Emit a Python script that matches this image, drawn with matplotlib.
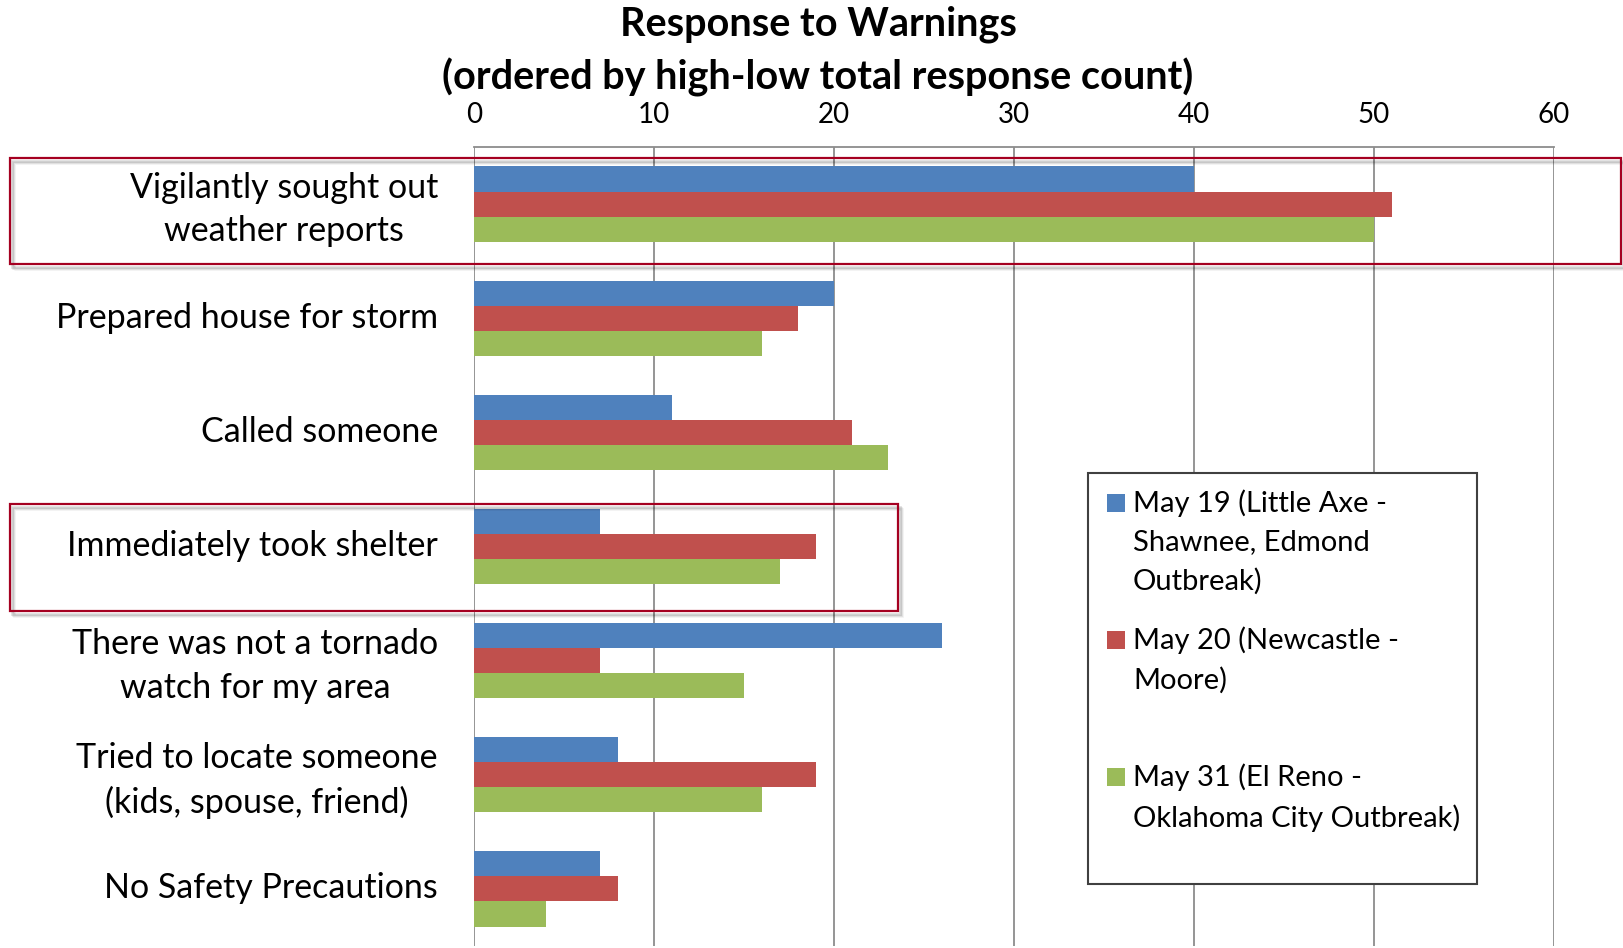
import matplotlib.pyplot as plt
from matplotlib.patches import Rectangle
from matplotlib.transforms import ScaledTranslation
import numpy as np

plt.rcParams['font.family'] = ['Lato', 'DejaVu Sans']

categories = ["Vigilantly sought out\nweather reports",
              "Prepared house for storm",
              "Called someone",
              "Immediately took shelter",
              "There was not a tornado\nwatch for my area",
              "Tried to locate someone\n(kids, spouse, friend)",
              "No Safety Precautions"]
may19 = [40, 20, 11, 7, 26, 8, 7]
may20 = [51, 18, 21, 19, 7, 19, 8]
may31 = [50, 16, 23, 17, 15, 16, 4]
series_names = ["May 19 (Little Axe -\nShawnee, Edmond\nOutbreak)",
                "May 20 (Newcastle -\nMoore)",
                "May 31 (El Reno -\nOklahoma City Outbreak)"]
colors = ['#4F81BD', '#C0504D', '#9BBB59']

W, H = 1623, 948
fig = plt.figure(figsize=(W / 100, H / 100), dpi=100)


def fx(x):
    return x / W


def fy(y):
    return 1 - y / H


ax = fig.add_axes([fx(474), fy(946), fx(1554) - fx(474), fy(147) - fy(946)])
pos = np.arange(len(categories))
h = 0.22
for i, (vals, c) in enumerate(zip([may19, may20, may31], colors)):
    ax.barh(pos + (i - 1) * h, vals, height=h, color=c, zorder=3)

ax.set_xlim(0, 60)
ax.set_ylim(len(categories) - 0.5, -0.5)
ax.xaxis.tick_top()
ax.set_xticks(range(0, 61, 10))
ax.grid(axis='x', color='#8c8c8c', lw=1.3, zorder=0)
ax.set_axisbelow(True)
for s in ['left', 'right', 'bottom']:
    ax.spines[s].set_visible(False)
ax.spines['top'].set_color('#8c8c8c')
ax.spines['top'].set_linewidth(1.3)
ax.set_yticks(pos)
ax.set_yticklabels(categories, fontsize=24.5, ha='right', ma='center', linespacing=1.45)
ax.tick_params(axis='y', length=0, pad=26)
ax.tick_params(axis='x', length=0, pad=14, labelsize=20)
# nudge category labels up a few pixels
up = ScaledTranslation(0, 3.5 / 100, fig.dpi_scale_trans)
for lbl in ax.get_yticklabels():
    lbl.set_transform(lbl.get_transform() + up)

# title
fig.text(fx(818), fy(24), "Response to Warnings", ha='center', va='center',
         fontsize=28.5, fontweight='bold')
fig.text(fx(818), fy(77), "(ordered by high-low total response count)", ha='center',
         va='center', fontsize=28.5, fontweight='bold')

# highlight boxes
for (x0, y0, x1, y1) in [(10, 158, 1621, 264), (10, 504, 898, 611)]:
    for k, a in enumerate([0.12, 0.08, 0.05]):
        fig.add_artist(Rectangle((fx(x0 + 2 + k), fy(y1 + 3 + k)), fx(x1) - fx(x0), fy(y0) - fy(y1),
                                 transform=fig.transFigure, fill=False,
                                 edgecolor='black', alpha=a, lw=2, zorder=4))
    fig.add_artist(Rectangle((fx(x0), fy(y1)), fx(x1) - fx(x0), fy(y0) - fy(y1),
                             transform=fig.transFigure, fill=False,
                             edgecolor='#A50021', lw=1.6, zorder=5))

# legend
fig.add_artist(Rectangle((fx(1088), fy(884)), fx(1477) - fx(1088), fy(473) - fy(884),
                         transform=fig.transFigure, facecolor='white',
                         edgecolor='#404040', lw=1.5, zorder=6))
for i, (name, c) in enumerate(zip(series_names, colors)):
    top = 494 + 137 * i
    fig.add_artist(Rectangle((fx(1107), fy(top + 18)), fx(18), fy(0) - fy(18),
                             transform=fig.transFigure, facecolor=c,
                             edgecolor='none', zorder=7))
    fig.text(fx(1133), fy(top - 5), name, ha='left', va='top', fontsize=21,
             linespacing=1.6, zorder=7)

fig.savefig('out.png', dpi=100)
